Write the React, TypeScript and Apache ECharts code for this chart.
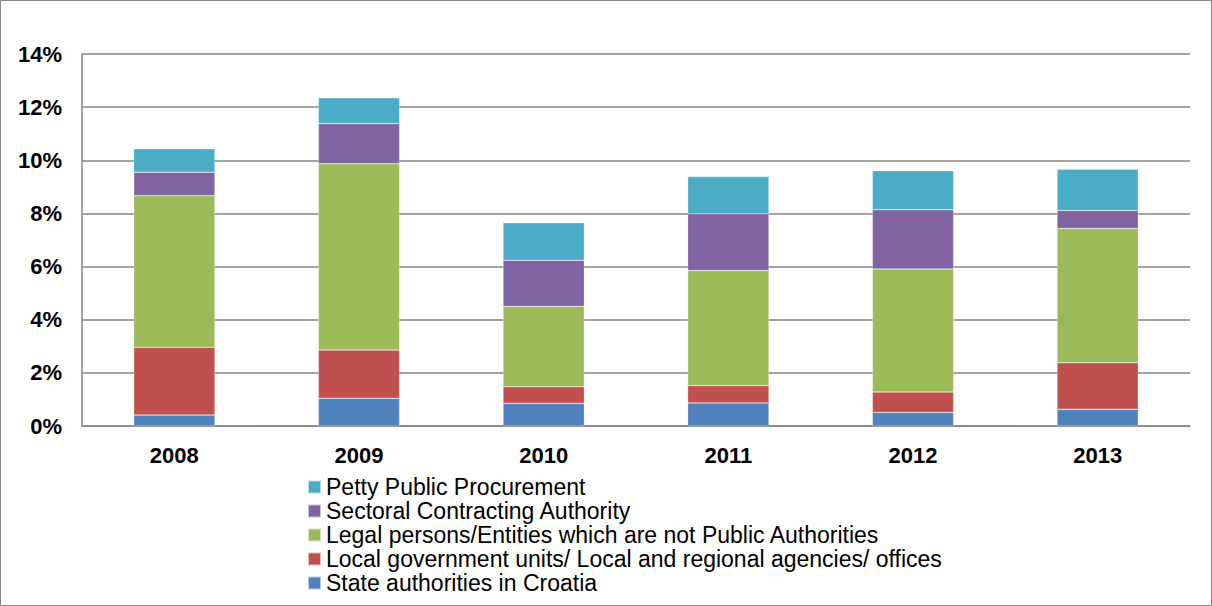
import React, { useEffect, useRef } from "react";
import * as echarts from "echarts";

const years = ["2008", "2009", "2010", "2011", "2012", "2013"];
const stateAuthorities = [0.41, 1.04, 0.85, 0.87, 0.51, 0.63];
const localGovernment = [2.55, 1.82, 0.63, 0.65, 0.77, 1.75];
const legalPersons = [5.71, 7.01, 3.02, 4.33, 4.63, 5.05];
const sectoral = [0.88, 1.51, 1.74, 2.14, 2.23, 0.68];
const petty = [0.88, 0.97, 1.41, 1.4, 1.47, 1.55];

const seriesNames = [
  "State authorities in Croatia",
  "Local government units/ Local and regional agencies/ offices",
  "Legal persons/Entities which are not Public Authorities",
  "Sectoral Contracting Authority",
  "Petty Public Procurement",
];
const seriesData = [stateAuthorities, localGovernment, legalPersons, sectoral, petty];
const colors = ["#4F81BD", "#C0504D", "#9BBB59", "#8064A2", "#4BACC6"];

export default function App() {
  const ref = useRef<HTMLDivElement>(null);
  useEffect(() => {
    document.body.style.margin = "0";
    const chart = echarts.init(ref.current!, undefined, { renderer: "svg" });
    const font = "'Liberation Sans', Arial, sans-serif";
    chart.setOption({
      animation: false,
      textStyle: { fontFamily: font },
      graphic: [
        {
          type: "rect",
          shape: { x: 0.5, y: 0.5, width: 1211, height: 605 },
          style: { fill: "none", stroke: "#868686", lineWidth: 1 },
          silent: true,
        },
      ],
      grid: { left: 82, right: 22, top: 54, bottom: 180 },
      legend: {
        orient: "vertical",
        left: 307,
        top: 475,
        padding: 0,
        itemGap: 0,
        itemWidth: 13,
        itemHeight: 13,
        icon: "rect",
        data: [...seriesNames].reverse(),
        textStyle: { fontSize: 23, fontFamily: font, color: "#000", lineHeight: 24 },
      },
      xAxis: {
        type: "category",
        data: years,
        axisLine: { show: true, lineStyle: { color: "#868686", width: 1.5 } },
        axisTick: { show: false },
        axisLabel: { fontSize: 22, fontWeight: "bold", color: "#000", margin: 18, fontFamily: font },
      },
      yAxis: {
        type: "value",
        min: 0,
        max: 14,
        interval: 2,
        axisLine: { show: true, lineStyle: { color: "#868686", width: 1.5 } },
        axisTick: { show: false },
        splitLine: { show: true, lineStyle: { color: "#868686", width: 1.5 } },
        axisLabel: {
          fontSize: 22,
          fontWeight: "bold",
          color: "#000",
          margin: 20,
          fontFamily: font,
          formatter: "{value}%",
        },
      },
      series: seriesNames.map((name, i) => ({
        name,
        type: "bar",
        stack: "total",
        barWidth: "44%",
        data: seriesData[i],
        itemStyle: { color: colors[i], borderColor: "rgba(255,255,255,0.6)", borderWidth: 0.5 },
      })),
    });
    return () => chart.dispose();
  }, []);
  return <div ref={ref} style={{ width: 1212, height: 606 }} />;
}
